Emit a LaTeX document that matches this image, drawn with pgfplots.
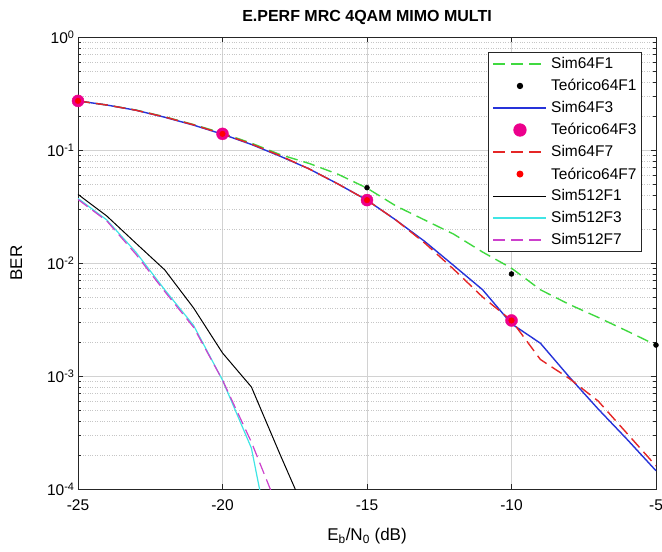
\documentclass[border=0pt]{standalone}
\usepackage{fontspec}
\setmainfont{Liberation Sans}
\usepackage{pgfplots}
\pgfplotsset{compat=1.18}
\definecolor{mgreen}{rgb}{0.25,0.85,0.25}
\definecolor{mblue}{rgb}{0.15,0.2,0.85}
\definecolor{mred}{rgb}{0.9,0.15,0.15}
\definecolor{mcyan}{rgb}{0.25,0.9,0.9}
\definecolor{mmag}{rgb}{0.8,0.25,0.8}
\definecolor{axgray}{rgb}{0.15,0.15,0.15}
\begin{document}
\begin{tikzpicture}[font=\fontsize{15.5}{17.5}\selectfont]
\useasboundingbox (-78pt,-63pt) rectangle (584pt,489pt);
\begin{axis}[
  scale only axis, width=578pt, height=452pt,
  ymode=log, xmin=-25, xmax=-5, ymin=1e-4, ymax=1,
  xtick={-25,-20,-15,-10,-5}, xticklabels={-25,-20,-15,-10,-5},
  ytick={1e-4,1e-3,1e-2,1e-1,1},
  yticklabels={10\textsuperscript{-4},10\textsuperscript{-3},10\textsuperscript{-2},10\textsuperscript{-1},10\textsuperscript{0}},
  minor ytick={2e-4,3e-4,4e-4,5e-4,6e-4,7e-4,8e-4,9e-4,2e-3,3e-3,4e-3,5e-3,6e-3,7e-3,8e-3,9e-3,2e-2,3e-2,4e-2,5e-2,6e-2,7e-2,8e-2,9e-2,2e-1,3e-1,4e-1,5e-1,6e-1,7e-1,8e-1,9e-1},
  minor xtick={},
  tick align=inside,
  major tick length=5pt, minor tick length=3pt,
  tick style={axgray, line width=0.6pt},
  axis line style={axgray, line width=0.8pt},
  grid=both,
  major grid style={gray!35, line width=0.5pt},
  minor grid style={gray!45, dotted, line width=0.5pt},
  xticklabel style={font=\fontsize{15.5}{17.5}\selectfont, yshift=-7pt},
  yticklabel style={font=\fontsize{15.5}{17.5}\selectfont},
  title={\textbf{E.PERF MRC 4QAM MIMO MULTI}},
  title style={font=\fontsize{16}{18}\selectfont, yshift=3pt},
  xlabel={E\textsubscript{b}/N\textsubscript{0} (dB)},
  ylabel={BER},
  label style={font=\fontsize{17}{19}\selectfont},
  xlabel shift=11pt,
  ylabel shift=18pt,
  legend cell align=left,
  legend image code/.code={\draw[mark repeat=2,mark phase=2] plot coordinates {(0pt,0pt) (26.5pt,0pt) (53pt,0pt)};\path (-1pt,0pt) (55pt,0pt);},
  legend style={at={(0.976,0.967)}, anchor=north east, draw=axgray, fill=white, line width=1.3pt, row sep=5.2pt, inner xsep=3pt, inner ysep=3pt, font=\fontsize{15.5}{17.5}\selectfont},
]
% Sim64F1
\addplot[mgreen, line width=1.4pt, dash pattern=on 12pt off 6pt] coordinates {
(-25,0.272) (-24,0.25) (-23,0.226) (-22,0.197) (-21,0.168) (-20,0.141) (-19,0.115) (-18,0.091) (-17,0.076) (-16,0.061) (-15,0.046) (-14,0.032) (-13,0.024) (-12,0.018) (-11,0.0125) (-10,0.009) (-9,0.0058) (-8,0.0043) (-7,0.0033) (-6,0.0025) (-5,0.00188)};
\addlegendentry{Sim64F1}
% Teorico64F1
\addplot[only marks, mark=*, mark size=2.5pt, black] coordinates {
(-25,0.272) (-20,0.14) (-15,0.0464) (-10,0.008) (-5,0.00188)};
\addlegendentry{Teórico64F1}
% Sim64F3
\addplot[mblue, line width=1.4pt] coordinates {
(-25,0.272) (-24,0.25) (-23,0.225) (-22,0.195) (-21,0.166) (-20,0.138) (-19,0.112) (-18,0.088) (-17,0.068) (-16,0.05) (-15,0.036) (-14,0.024) (-13,0.0155) (-12,0.0095) (-11,0.0058) (-10,0.0029) (-9,0.00195) (-8,0.00098) (-7,0.00051) (-6,0.000275) (-5,0.000145)};
\addlegendentry{Sim64F3}
% Teorico64F3
\addplot[only marks, mark=*, mark size=6pt, color=magenta, fill=magenta] coordinates {
(-25,0.272) (-20,0.139) (-15,0.036) (-10,0.0031)};
\addlegendentry{Teórico64F3}
% Sim64F7
\addplot[mred, line width=1.4pt, dash pattern=on 12pt off 6pt] coordinates {
(-25,0.272) (-24,0.25) (-23,0.225) (-22,0.196) (-21,0.167) (-20,0.139) (-19,0.113) (-18,0.089) (-17,0.068) (-16,0.05) (-15,0.036) (-14,0.024) (-13,0.015) (-12,0.0088) (-11,0.005) (-10,0.0031) (-9,0.0014) (-8,0.00095) (-7,0.0006) (-6,0.00031) (-5,0.00016)};
\addlegendentry{Sim64F7}
% Teorico64F7
\addplot[only marks, mark=*, mark size=2.8pt, color=red] coordinates {
(-25,0.272) (-20,0.139) (-15,0.036) (-10,0.0031)};
\addlegendentry{Teórico64F7}
% Sim512F1
\addplot[black, line width=1pt] coordinates {
(-25,0.0405) (-24,0.026) (-23,0.015) (-22,0.0087) (-21,0.004) (-20,0.0016) (-19,0.0008) (-18,0.0002) (-17,0.000052)};
\addlegendentry{Sim512F1}
% Sim512F3
\addplot[mcyan, line width=1.2pt] coordinates {
(-25,0.0373) (-24,0.024) (-23,0.0125) (-22,0.0058) (-21,0.0028) (-20,0.00092) (-19,0.00023) (-18,0.000012)};
\addlegendentry{Sim512F3}
% Sim512F7
\addplot[mmag, line width=1.2pt, dash pattern=on 12pt off 6pt] coordinates {
(-25,0.0365) (-24,0.0235) (-23,0.012) (-22,0.0056) (-21,0.0027) (-20,0.00092) (-19,0.00026) (-18,0.00006)};
\addlegendentry{Sim512F7}
\end{axis}
\end{tikzpicture}
\end{document}
